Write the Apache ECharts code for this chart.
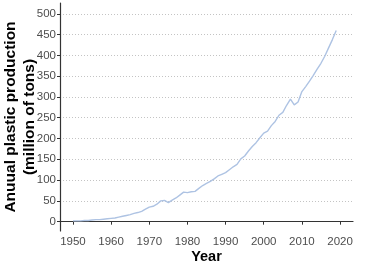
<!DOCTYPE html>
<html>
<head>
<meta charset="utf-8">
<script src="https://cdn.jsdelivr.net/npm/echarts@6/dist/echarts.min.js"></script>
<style>
html,body{margin:0;padding:0;background:#fff;}
#chart{width:375px;height:268px;}
</style>
</head>
<body>
<div id="chart"></div>
<script>
const years = [1950,1951,1952,1953,1954,1955,1956,1957,1958,1959,
1960,1961,1962,1963,1964,1965,1966,1967,1968,1969,
1970,1971,1972,1973,1974,1975,1976,1977,1978,1979,
1980,1981,1982,1983,1984,1985,1986,1987,1988,1989,
1990,1991,1992,1993,1994,1995,1996,1997,1998,1999,
2000,2001,2002,2003,2004,2005,2006,2007,2008,2009,
2010,2011,2012,2013,2014,2015,2016,2017,2018,2019];
const production = [2,2,2,3,3,4,5,5,6,7,
8,9,11,13,15,17,20,22,25,30,
35,37,42,50,51,46,52,57,64,71,
70,72,73,80,87,92,97,103,110,114,
118,125,132,138,151,158,170,181,190,202,
213,218,231,241,256,263,280,295,281,288,
313,325,338,352,367,381,398,418,438,460];
const xTicks = [1950,1960,1970,1980,1990,2000,2010,2020];
const yTicks = [0,50,100,150,200,250,300,350,400,450,500];

const chart = echarts.init(document.getElementById('chart'), null, {renderer:'canvas'});
const FONT = 'Liberation Sans, Arial, sans-serif';
const labelFont = {color:'#4d4d4d', fontSize:11.5, fontFamily:FONT};
chart.setOption({
  animation:false,
  grid:{left:60, right:22, top:3, bottom:37, containLabel:false, outerBoundsMode:'none'},
  xAxis:{
    type:'value', min:1946.6, max:2023.4,
    name:'Year', nameLocation:'middle', nameGap:18, nameMoveOverlap:false,
    nameTextStyle:{color:'#000', fontSize:14.5, fontWeight:'bold', fontFamily:FONT},
    axisLine:{show:true, lineStyle:{color:'#333', width:1.2}},
    axisTick:{show:true, length:3, customValues:xTicks, lineStyle:{color:'#333'}},
    axisLabel:Object.assign({customValues:xTicks, margin:5, formatter:v=>String(v)}, labelFont),
    splitLine:{show:false}
  },
  yAxis:{
    type:'value', min:-22.4, max:526,
    name:'Anuual plastic production\n(million of tons)', nameLocation:'middle', nameGap:21, nameMoveOverlap:false,
    nameTextStyle:{color:'#000', fontSize:15.5, fontWeight:'bold', lineHeight:19, fontFamily:FONT},
    axisLine:{show:true, lineStyle:{color:'#333', width:1.2}},
    axisTick:{show:true, length:3, customValues:yTicks, lineStyle:{color:'#333'}},
    axisLabel:Object.assign({customValues:yTicks, margin:4, formatter:v=>String(v)}, labelFont),
    splitLine:{show:true, lineStyle:{color:'#c4c4c4', type:[1,2], width:1}}
  },
  series:[{
    type:'line',
    data:years.map((y,i)=>[y, production[i]]),
    showSymbol:false,
    lineStyle:{color:'#aec3e3', width:1.4},
    itemStyle:{color:'#aec3e3'}
  }]
});
</script>
</body>
</html>
